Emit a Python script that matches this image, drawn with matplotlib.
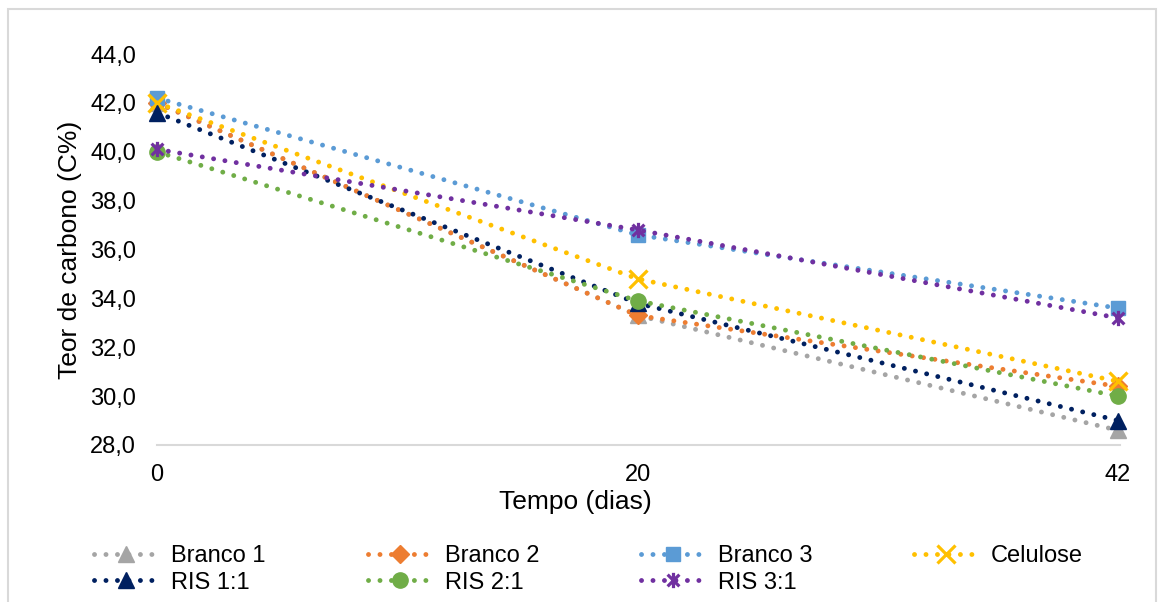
import matplotlib.pyplot as plt
from matplotlib.path import Path
from matplotlib.patches import Rectangle
from matplotlib.ticker import FuncFormatter

plt.rcParams['font.family'] = ['Liberation Sans', 'DejaVu Sans']

# dados
dias = ["0", "20", "42"]
branco1 = [42.0, 33.3, 28.6]
branco2 = [42.0, 33.3, 30.4]
branco3 = [42.2, 36.6, 33.6]
celulose = [42.0, 34.8, 30.6]
ris11 = [41.6, 33.8, 29.0]
ris21 = [40.0, 33.9, 30.0]
ris31 = [40.1, 36.8, 33.2]

# marcador estrela do excel: X com barra vertical
star = Path([(-1, -1), (1, 1), (-1, 1), (1, -1), (0, -1.3), (0, 1.3)],
            [Path.MOVETO, Path.LINETO, Path.MOVETO, Path.LINETO, Path.MOVETO, Path.LINETO])

series = [
    ("Branco 1", branco1, "#A5A5A5", "^", 11),
    ("Branco 2", branco2, "#ED7D31", "D", 9),
    ("Branco 3", branco3, "#5B9BD5", "s", 10.5),
    ("Celulose", celulose, "#FFC000", "x", 13),
    ("RIS 1:1", ris11, "#002060", "^", 11),
    ("RIS 2:1", ris21, "#70AD47", "o", 11),
    ("RIS 3:1", ris31, "#7030A0", star, 11),
]

fig = plt.figure(figsize=(11.58, 6.02), dpi=100)
ax = fig.add_axes([157/1158, 1-445/602, (1120-157)/1158, (445-54)/602])

x = list(range(len(dias)))
handles = {}
for name, vals, col, mk, ms in series:
    thin = mk == "x" or mk is star
    ln, = ax.plot(x, vals, color=col, lw=3.5, linestyle=(0, (0.01, 2.35)),
                  dash_capstyle='round', marker=mk, markersize=ms,
                  markeredgewidth=2.3 if thin else 1,
                  markerfacecolor=col, markeredgecolor=col, clip_on=False, label=name)
    handles[name] = ln

ax.set_xlim(0, 2.004)
ax.set_ylim(28, 44)
ax.set_yticks([28, 30, 32, 34, 36, 38, 40, 42, 44])
ax.yaxis.set_major_formatter(FuncFormatter(lambda v, p: f"{v:.1f}".replace('.', ',')))
ax.set_xticks(x)
ax.set_xticklabels(dias)
ax.tick_params(axis='both', length=0, labelsize=17)
ax.tick_params(axis='y', pad=15)
ax.tick_params(axis='x', pad=14)
for s in ['top', 'right', 'left']:
    ax.spines[s].set_visible(False)
ax.spines['bottom'].set_color('#D9D9D9')
ax.spines['bottom'].set_linewidth(1.5)

ax.set_xlabel("Tempo (dias)", fontsize=19)
ax.set_ylabel("Teor de carbono (C%)", fontsize=19)
ax.xaxis.set_label_coords(0.434, -0.116)
ax.yaxis.set_label_coords(-0.078, 0.5)

# legenda em 4 colunas posicionadas como no original
colunas = [(["Branco 1", "RIS 1:1"], 94), (["Branco 2", "RIS 2:1"], 368),
           (["Branco 3", "RIS 3:1"], 641), (["Celulose"], 914)]
for nomes, xpix in colunas:
    fig.legend([handles[n] for n in nomes], nomes, loc='upper left',
               bbox_to_anchor=(xpix/1158, 1-545/602), frameon=False, fontsize=17,
               handlelength=2.75, handletextpad=0.5, labelspacing=0.2,
               borderpad=0, borderaxespad=0)

fig.patches.append(Rectangle((8/1158, -0.05), (1156-8)/1158, 1.05-9/602,
                             transform=fig.transFigure, fill=False,
                             edgecolor='#D9D9D9', linewidth=1.5))

fig.savefig("out.png", dpi=100)
